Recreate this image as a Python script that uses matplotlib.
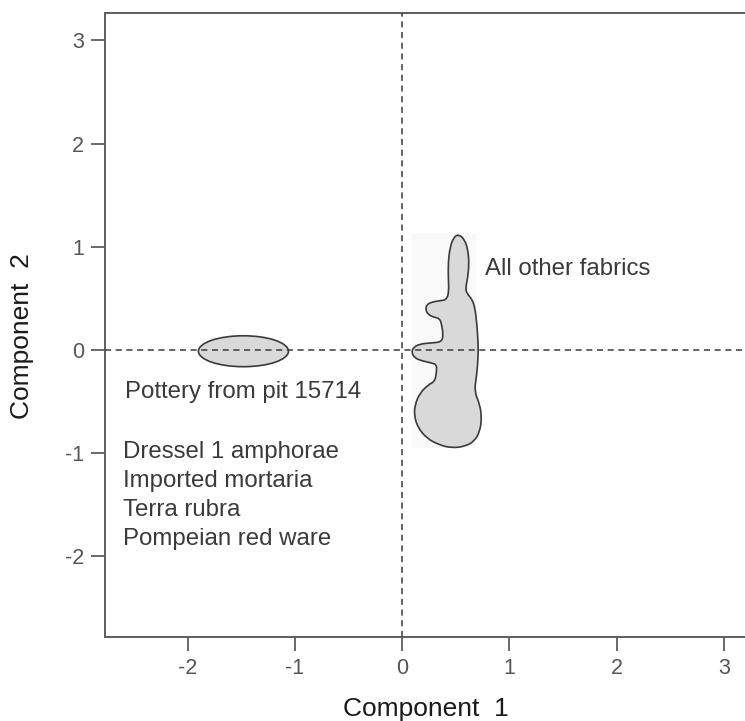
import matplotlib
matplotlib.use("Agg")
import matplotlib.pyplot as plt
import numpy as np
from matplotlib.path import Path
from matplotlib.patches import PathPatch, Ellipse, Rectangle

# ---- data ----
x_ticks = [-2, -1, 0, 1, 2, 3]
y_ticks = [-2, -1, 0, 1, 2, 3]
x_limits = [-2.771, 3.197]
y_limits = [-2.787, 3.266]

# Pottery from pit 15714 (ellipse region)
pit_center = (-1.48, -0.015)
pit_width = 0.84
pit_height = 0.30

# All other fabrics (outline of region)
other_x = [0.523, 0.585, 0.616, 0.623, 0.611, 0.592, 0.601, 0.654, 0.679, 0.694,
           0.704, 0.710, 0.704, 0.691, 0.673, 0.725, 0.741, 0.725, 0.673, 0.585,
           0.461, 0.337, 0.228, 0.150, 0.113, 0.119, 0.166, 0.244, 0.306, 0.321,
           0.321, 0.275, 0.181, 0.119, 0.088, 0.104, 0.166, 0.259, 0.368, 0.383,
           0.368, 0.352, 0.299, 0.244, 0.219, 0.228, 0.275, 0.352, 0.415, 0.436,
           0.430, 0.430, 0.446, 0.476]
other_y = [1.122, 1.067, 0.954, 0.824, 0.695, 0.598, 0.550, 0.485, 0.404, 0.275,
           0.145, 0.000, -0.145, -0.275, -0.404, -0.533, -0.663, -0.792, -0.889, -0.938,
           -0.954, -0.921, -0.857, -0.760, -0.647, -0.533, -0.420, -0.340, -0.307, -0.210,
           -0.145, -0.129, -0.107, -0.081, -0.032, 0.023, 0.055, 0.065, 0.074, 0.145,
           0.242, 0.301, 0.314, 0.339, 0.388, 0.436, 0.462, 0.475, 0.485, 0.566,
           0.695, 0.857, 0.986, 1.083]

label_other = "All other fabrics"
label_pit = "Pottery from pit 15714"
pit_types = ["Dressel 1 amphorae", "Imported mortaria", "Terra rubra", "Pompeian red ware"]
x_label = "Component  1"
y_label = "Component  2"

# ---- figure ----
plt.rcParams['font.family'] = ['Liberation Sans', 'DejaVu Sans']
fig = plt.figure(figsize=(7.45, 7.21), dpi=100)
ax = fig.add_axes([105/745, 1 - 637/721, 1 - 105/745, (637 - 13)/721])
ax.set_xlim(x_limits)
ax.set_ylim(y_limits)

spine_col = '#5e5e5e'
for s in ['left', 'bottom', 'top']:
    ax.spines[s].set_color(spine_col)
    ax.spines[s].set_linewidth(1.4)
ax.spines['right'].set_visible(False)

ax.set_xticks(x_ticks)
ax.set_yticks(y_ticks)
ax.set_xticklabels([str(t) for t in x_ticks])
ax.set_yticklabels([str(t) for t in y_ticks])
ax.tick_params(axis='both', direction='out', length=10, width=1.3, color=spine_col,
               labelsize=15.5, labelcolor='#555555', pad=5)

# faint background box behind the fabrics region
ax.add_patch(Rectangle((0.09, -0.95), 0.60, 2.08, facecolor='#f9f9f9',
                       edgecolor='none', zorder=0))

# smooth closed outline (quadratic B-spline through midpoints)
pts = np.column_stack([other_x, other_y])
n = len(pts)
mids = (pts + np.roll(pts, -1, axis=0)) / 2.0
verts = [mids[-1]]
codes = [Path.MOVETO]
for i in range(n):
    verts.append(pts[i]); codes.append(Path.CURVE3)
    verts.append(mids[i]); codes.append(Path.CURVE3)
verts.append(mids[-1]); codes.append(Path.CLOSEPOLY)
ax.add_patch(PathPatch(Path(verts, codes), facecolor='#d9d9d9', edgecolor='#3a3a3a',
                       linewidth=1.2, zorder=2))

ax.add_patch(Ellipse(pit_center, pit_width, pit_height, facecolor='#d9d9d9',
                     edgecolor='#3a3a3a', linewidth=1.2, zorder=2))

# reference dashed lines
ax.axhline(0, color='#3a3a3a', linestyle=(0, (4, 3)), linewidth=1.1, zorder=3)
ax.axvline(0, color='#3a3a3a', linestyle=(0, (4, 3)), linewidth=1.1, zorder=3)

# annotations
txt_col = '#3a3a3a'
fs = 17.3
ax.text(0.772, 0.727, label_other, fontsize=fs, color=txt_col, va='baseline', ha='left')
ax.text(-2.585, -0.466, label_pit, fontsize=fs, color=txt_col, va='baseline', ha='left')
pit_baselines = [-1.047, -1.329, -1.610, -1.891]
for t, yb in zip(pit_types, pit_baselines):
    ax.text(-2.60, yb, t, fontsize=fs, color=txt_col, va='baseline', ha='left')

fig.text(426 / 745, 1 - 716 / 721, x_label, fontsize=19, color='#1a1a1a',
         ha='center', va='baseline')
fig.text(22 / 745, 1 - 336 / 721, y_label, fontsize=19, color='#1a1a1a',
         ha='center', va='center', rotation=90)

fig.savefig('out.png', dpi=100)
